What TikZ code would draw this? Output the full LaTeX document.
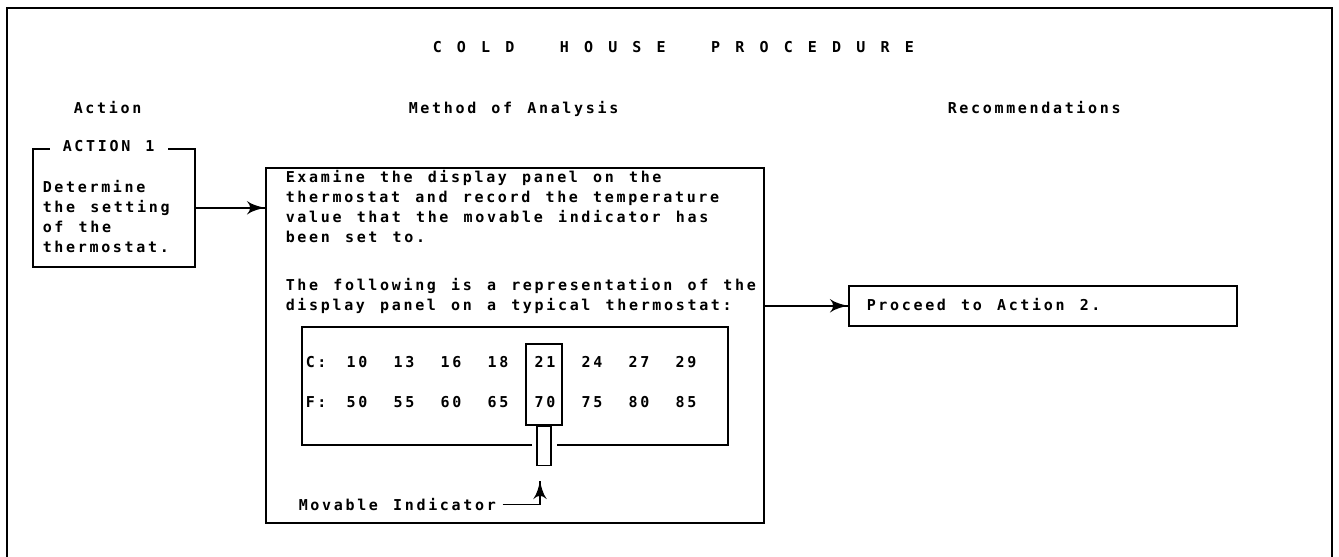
\documentclass[tikz,border=0pt]{standalone}
\usepackage{fontspec}
\setmainfont[LetterSpace = 17.8, WordSpace = 1.296]{DejaVu Sans Mono}
\usepackage{tikz}
\usetikzlibrary{arrows}
\usetikzlibrary{decorations.markings}
\tikzset{->/.style = {decoration = {markings,
                                    mark = at position 1 with {\arrow[scale = 2.4]{latex'}}},
                      postaction = {decorate}}}
\tikzset{box/.style = {draw, inner sep = 0, anchor = north west}}
\tikzset{txt/.style = {inner sep = 0, anchor = base west}}
\tikzset{para/.style = {inner sep = 0, anchor = north west, align = left}}

\begin{document}
\begin{tikzpicture}[x = 1pt, y = -1pt, line width = 1.6pt,
                    font = \bfseries\fontsize{15}{20}\selectfont]
    \useasboundingbox (0, 0) rectangle (1339, 557);
    \draw (7, 557) -- (7, 8) -- (1332, 8) -- (1332, 557);
    \node (title) [txt] at (432, 52.5) {C O L D\ \ \ H O U S E\ \ \ P R O C E D U R E};
    \node (hact) [txt] at (73, 113) {Action};
    \node (hmeth) [txt] at (408, 113) {Method of Analysis};
    \node (hrec) [txt] at (947, 113) {Recommendations};

    \node (act) [box, minimum width = 162, minimum height = 118] at (32, 148) {};
    \node (act1) [txt, fill = white, inner xsep = 13, inner ysep = 2] at (49, 151) {ACTION 1};
    \node (acttxt) [para] at (42, 179.5) {Determine\\the setting\\of the\\thermostat.};

    \node (meth) [box, minimum width = 498, minimum height = 355] at (265, 167) {};
    \node (exam) [para] at (285, 170) {Examine the display panel on the\\thermostat and record the temperature\\value that the movable indicator has\\been set to.};
    \node (repr) [para] at (285, 278) {The following is a representation of the\\display panel on a typical thermostat:};

    \draw (532, 445) -| (302, 327) -| (728, 445) -- (557, 445);
    \node (clbl) [txt] at (305, 367.5) {C:};
    \node (flbl) [txt] at (305, 407.5) {F:};
    \foreach \c/\f [count = \i from 0] in {10/50, 13/55, 16/60, 18/65, 21/70, 24/75, 27/80, 29/85}
      {
        \node (c\i) [inner sep = 0] at ({357 + 47*\i}, 362) {\c};
        \node (f\i) [inner sep = 0] at ({357 + 47*\i}, 402) {\f};
      }
    \node (win) [draw, inner sep = 0, minimum width = 36, minimum height = 81] at (544, 384.5) {};
    \node (stem) [draw, inner sep = 0, minimum width = 14, minimum height = 39, anchor = north] at (win.south) {};
    \node (mov) [txt] at (298, 510.5) {Movable Indicator};
    \coordinate (pointer) at (540, 481);
    \draw [->] ([xshift = 6] mov.east) -| (pointer);

    \node (rec) [box, minimum width = 388, minimum height = 40] at (848, 285) {};
    \node (proc) [txt] at (866, 310) {Proceed to Action 2.};

    \draw [->] (act.east) -- (act.east -| meth.west);
    \draw [->] (rec.west -| meth.east) -- (rec.west);
  \end{tikzpicture}
\end{document}
